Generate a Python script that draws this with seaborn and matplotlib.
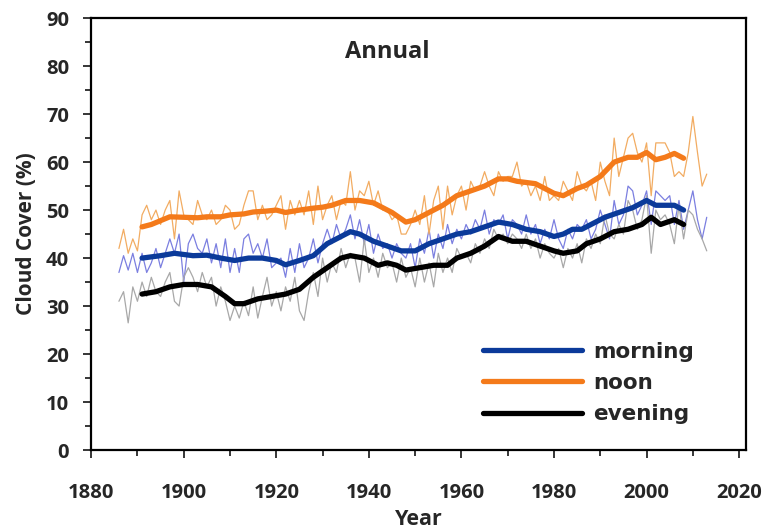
import numpy as np
import pandas as pd
import seaborn as sns
import matplotlib
matplotlib.use('Agg')
import matplotlib.pyplot as plt
from matplotlib.ticker import MultipleLocator

# annual values (thin lines), 1886-2013
years = list(range(1886, 2014))
noon_annual = [42, 46, 41, 44, 41.5, 49, 51, 48, 50, 47, 50, 52, 44, 54, 49, 48, 47, 52, 49, 48,
               50, 47, 48, 51, 50, 46, 47, 51, 54, 54, 48, 51, 48, 49, 51, 53, 46, 52, 49, 52,
               49, 54, 47, 55, 48, 51, 53, 48, 52, 51, 58, 50, 54, 53, 56, 51, 54, 50, 50, 48,
               49, 45, 45, 47, 50, 47, 53, 45, 52, 55, 46, 55, 49, 53, 55, 50, 56, 54, 55, 58,
               55, 53, 58, 56, 57, 57, 60, 55, 56, 53, 55, 52, 57, 52, 53, 52, 56, 54, 52, 58,
               55, 54, 56, 52, 60, 56, 53, 65, 57, 61, 65, 66, 62, 60, 64, 53, 64, 64, 64, 62,
               57, 58, 57, 62, 69.5, 62, 55, 57.5]
morning_annual = [37, 40.5, 37.5, 41, 37, 41, 37, 39, 42, 38, 41, 44, 41, 45, 35, 43, 45, 42, 41, 44,
                  39, 43, 38, 44, 37, 42, 37, 44, 45, 41, 43, 40, 44, 38, 39, 40, 36, 42, 37, 43,
                  38, 40, 44, 39, 43, 46, 43, 47, 44, 46, 49, 44, 48, 43, 47, 41, 45, 42, 43, 40,
                  43, 41, 40, 43, 38, 44, 41, 46, 40, 45, 42, 47, 43, 46, 44, 47, 45, 48, 46, 50,
                  45, 48, 47, 49, 44, 48, 47, 45, 49, 45, 47, 43, 46, 44, 48, 44, 42, 46, 44, 47,
                  46, 48, 44, 46, 50, 47, 44, 52, 47, 49, 55, 54, 49, 51, 54, 47, 54, 53, 52, 53,
                  47, 52, 46, 50, 54, 48, 44, 48.5]
evening_annual = [31, 33, 26.5, 34, 31, 35, 32, 36, 33, 32, 35, 37, 31, 30, 36, 38, 36, 33, 37, 34,
                  36, 30, 34, 31, 27, 30, 27.5, 31, 28, 34, 27.5, 32, 36, 30, 33, 29, 34, 31, 36, 29,
                  27, 33, 37, 32, 40, 35, 39, 37, 42, 38, 41, 40, 35, 44, 37, 40, 36, 41, 38, 39,
                  35, 40, 36, 38, 34, 40, 35, 39, 34, 41, 37, 40, 37, 42, 40, 41, 39, 43, 41, 44,
                  42, 46, 44, 45, 43, 45, 44, 42, 45, 42, 44, 40, 43, 41, 40, 42, 38, 42, 40, 43,
                  39, 44, 42, 45, 43, 49, 45, 44, 47, 45, 52, 50, 46, 48, 53, 41, 50, 48, 49, 47,
                  43, 51, 44, 50, 49, 46, 44, 41.5]

# smoothed curves (thick lines)
noon_years = [1891, 1893, 1895, 1897, 1900, 1903, 1905, 1908, 1910, 1913, 1915, 1918, 1920, 1922,
              1925, 1928, 1930, 1932, 1935, 1938, 1941, 1943, 1945, 1948, 1950, 1953, 1956, 1959,
              1962, 1965, 1968, 1970, 1972, 1976, 1980, 1982, 1985, 1987, 1990, 1993, 1996, 1998,
              2000, 2002, 2004, 2006, 2008]
noon_smooth = [46.5, 47, 47.8, 48.6, 48.5, 48.4, 48.6, 48.6, 49, 49.2, 49.6, 49.8, 50, 49.5,
               50, 50.4, 50.6, 51, 52, 52, 51.5, 50.5, 49.5, 47.5, 48, 49.5, 51, 53,
               54, 55, 56.5, 56.5, 56, 55.5, 53.5, 53, 54.5, 55.2, 57, 60, 61, 61,
               62, 60.5, 61, 61.8, 60.8]
morning_years = [1891, 1895, 1898, 1902, 1905, 1908, 1911, 1914, 1917, 1920, 1922, 1925, 1928, 1931,
                 1934, 1936, 1938, 1941, 1944, 1947, 1950, 1953, 1956, 1959, 1962, 1965, 1968, 1971,
                 1974, 1977, 1980, 1982, 1984, 1986, 1988, 1991, 1994, 1997, 2000, 2002, 2004, 2006,
                 2008]
morning_smooth = [40, 40.5, 41, 40.5, 40.6, 40, 39.5, 40, 40, 39.5, 38.6, 39.5, 40.5, 43,
                  44.5, 45.5, 45, 43.5, 42.5, 41.5, 41.5, 43, 44, 45, 45.5, 46.5, 47.5, 47,
                  46, 45.5, 44.5, 45, 46, 46, 47, 48.5, 49.5, 50.5, 52, 51, 51, 51,
                  50]
evening_years = [1891, 1894, 1897, 1900, 1903, 1906, 1909, 1911, 1913, 1916, 1919, 1922, 1925, 1928,
                 1931, 1934, 1936, 1939, 1942, 1944, 1946, 1948, 1951, 1954, 1957, 1959, 1962, 1965,
                 1968, 1971, 1974, 1977, 1980, 1982, 1985, 1987, 1990, 1993, 1996, 1999, 2001, 2003,
                 2006, 2008]
evening_smooth = [32.5, 33, 34, 34.5, 34.5, 34, 32, 30.5, 30.5, 31.5, 32, 32.5, 33.5, 36,
                  38, 40, 40.5, 40, 38.5, 39, 38.5, 37.5, 38, 38.5, 38.5, 40, 41, 42.5,
                  44.5, 43.5, 43.5, 42.5, 41.5, 41, 41.5, 43, 44, 45.5, 46, 47, 48.5, 47,
                  48, 47]

labels = ['morning', 'noon', 'evening']
thin_colors = ['#7b7fe0', '#f2ac62', '#a8a8a8']
thick_colors = ['#0b3a9a', '#f47a1a', '#000000']

sns.set_style('ticks')
plt.rcParams['font.family'] = ['Open Sans', 'DejaVu Sans']

fig = plt.figure(figsize=(7.66, 5.32), dpi=100)
ax = fig.add_axes([0.119, 0.154, 0.855, 0.812])

for vals, c in zip([morning_annual, noon_annual, evening_annual], thin_colors):
    sns.lineplot(x=years, y=vals, color=c, lw=0.9, ax=ax)

smooth = [(morning_years, morning_smooth), (noon_years, noon_smooth), (evening_years, evening_smooth)]
for (yrs, vals), c, lab in zip(smooth, thick_colors, labels):
    sns.lineplot(x=yrs, y=vals, color=c, lw=3.8, label=lab, ax=ax)

ax.set_xlim(1880, 2021.5)
ax.set_ylim(0, 90)
ax.set_xticks(range(1880, 2021, 20))
ax.xaxis.set_minor_locator(MultipleLocator(10))
ax.yaxis.set_major_locator(MultipleLocator(10))
ax.yaxis.set_minor_locator(MultipleLocator(5))
ax.tick_params(axis='x', which='major', pad=18)
ax.tick_params(axis='y', which='major', pad=10)
ax.tick_params(which='major', direction='out', length=6, width=1.3, labelsize=14.5)
ax.tick_params(which='minor', direction='out', length=4, width=1.3)
for lab in ax.get_xticklabels() + ax.get_yticklabels():
    lab.set_fontweight('bold')
for s in ax.spines.values():
    s.set_linewidth(1.6)
    s.set_color('black')

ax.set_xlabel('Year', fontsize=15.5, fontweight='bold', labelpad=4)
ax.set_ylabel('Cloud Cover (%)', fontsize=15, fontweight='bold', labelpad=6)
ax.text(1944, 83, 'Annual', fontsize=17, fontweight='bold', ha='center', va='center')

leg = ax.legend(loc='lower right', bbox_to_anchor=(0.95, 0.015), frameon=False,
                handlelength=4.6, labelspacing=0.52, handletextpad=0.5,
                prop={'family': 'DejaVu Sans', 'weight': 'bold', 'size': 15.5})

fig.savefig('out.png', dpi=100)
